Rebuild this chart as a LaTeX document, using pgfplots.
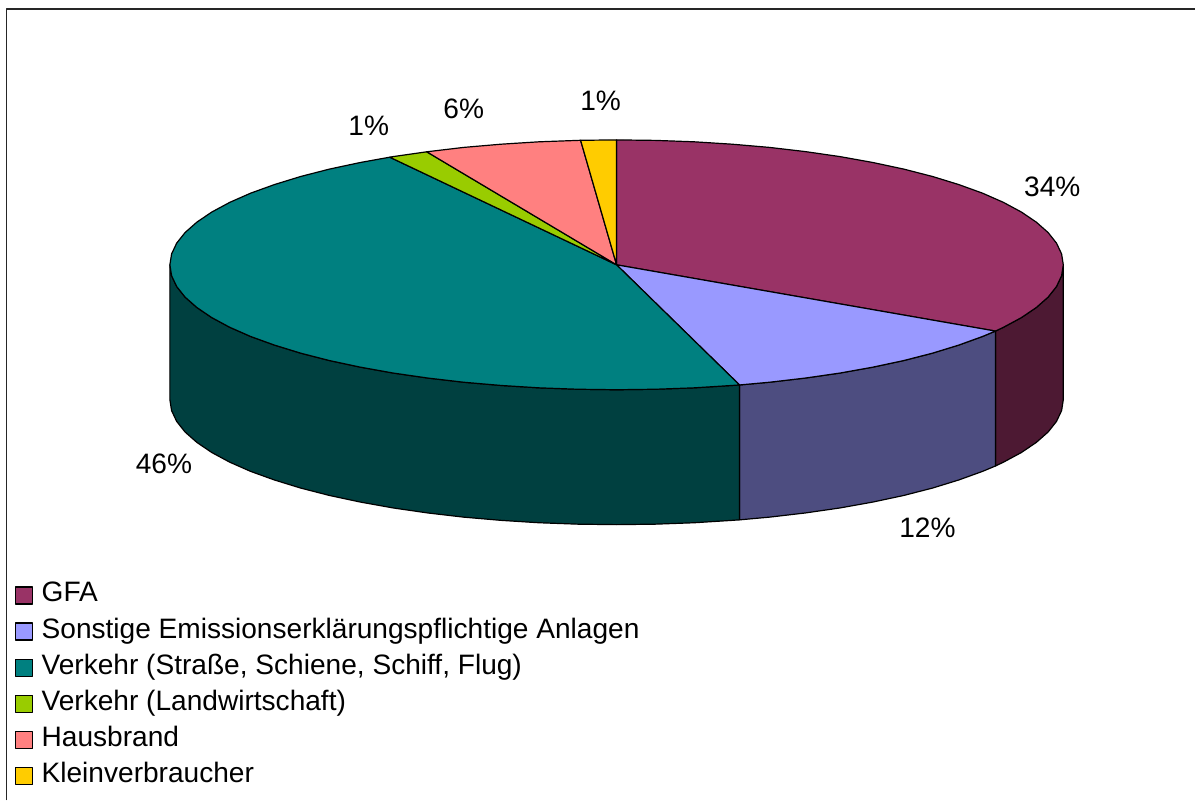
\documentclass[border=0pt]{standalone}
\usepackage{pgfplots}
\pgfplotsset{compat=1.18}
\usepackage{fontspec}
\setmainfont{Liberation Sans}
\definecolor{cGFA}{HTML}{993366}
\definecolor{cGFAs}{HTML}{4D1933}
\definecolor{cSon}{HTML}{9999FF}
\definecolor{cSons}{HTML}{4D4D80}
\definecolor{cVer}{HTML}{008080}
\definecolor{cVers}{HTML}{004040}
\definecolor{cLan}{HTML}{99CC00}
\definecolor{cHau}{HTML}{FF8080}
\definecolor{cKle}{HTML}{FFCC00}
\begin{document}
\begin{tikzpicture}
\begin{axis}[
  scale only axis, width=1196pt, height=801pt,
  xmin=0, xmax=1196, ymin=0, ymax=801, y dir=reverse,
  hide axis, clip=false,
  legend cell align=left,
  legend image code/.code={\draw[#1, line width=1.2pt] (0pt,-2pt) rectangle (17pt,15pt);},
  legend style={draw=none, fill=none, at={(axis cs:15,799)}, anchor=south west,
    inner sep=0pt, outer sep=0pt, row sep=0pt,
    nodes={inner sep=0pt, outer sep=0pt, text height=20.5pt, text depth=15.7pt, anchor=base west, font=\fontsize{28.1}{28.1}\selectfont},
    /tikz/every odd column/.append style={column sep=8.5pt}},
  every axis plot/.append style={line width=1.2pt, line join=round},
]
% page extent and frame
\addplot[draw=none, forget plot] coordinates {(0,0)(1196,801)};
\addplot[draw=black!85, line width=1.6pt, forget plot] coordinates {(6.5,801)(6.5,9)(1196,9)};
% sides
\addplot[draw=black, fill=cGFAs, forget plot] coordinates {
(1064,265)(1062.3,275.9)(1057.2,286.7)(1048.8,297.3)(1037,307.7)(1022.1,317.8)(1004.1,327.5)(996.1,331.3)
(996.1,466.3)(1004.1,462.5)(1022.1,452.8)(1037,442.7)(1048.8,432.3)(1057.2,421.7)(1062.3,410.9)(1064,400)(1064,265)};
\addplot[draw=black, fill=cSons, forget plot] coordinates {
(996.1,331.3)(983.2,336.7)(959.4,345.3)(933.1,353.4)(904.3,360.8)(873.4,367.4)(840.5,373.3)(805.9,378.3)(769.9,382.5)(740,385.2)
(740,520.2)(769.9,517.5)(805.9,513.3)(840.5,508.3)(873.4,502.4)(904.3,495.8)(933.1,488.4)(959.4,480.3)(983.2,471.7)(996.1,466.3)(996.1,331.3)};
\addplot[draw=black, fill=cVers, forget plot] coordinates {
(740,385.2)(732.7,385.7)(694.6,388.1)(656,389.5)(617,390)(578,389.5)(539.4,388.1)(501.3,385.7)(464.1,382.5)(428.1,378.3)(393.5,373.3)(360.6,367.4)(329.7,360.8)(300.9,353.4)(274.6,345.3)(250.8,336.7)(229.9,327.5)(211.9,317.8)(197,307.7)(185.2,297.3)(176.8,286.7)(171.7,275.9)(170,265)
(170,400)(171.7,410.9)(176.8,421.7)(185.2,432.3)(197,442.7)(211.9,452.8)(229.9,462.5)(250.8,471.7)(274.6,480.3)(300.9,488.4)(329.7,495.8)(360.6,502.4)(393.5,508.3)(428.1,513.3)(464.1,517.5)(501.3,520.7)(539.4,523.1)(578,524.5)(617,525)(656,524.5)(694.6,523.1)(732.7,520.7)(740,520.2)(740,385.2)};
% tops
\addplot[draw=black, fill=cGFA] coordinates {
(617,265)(617,140)(656,140.5)(694.6,141.9)(732.7,144.3)(769.9,147.5)(805.9,151.7)(840.5,156.7)(873.4,162.6)(904.3,169.2)(933.1,176.6)(959.4,184.7)(983.2,193.3)(1004.1,202.5)(1022.1,212.2)(1037,222.3)(1048.8,232.7)(1057.2,243.3)(1062.3,254.1)(1064,265)(1062.3,275.9)(1057.2,286.7)(1048.8,297.3)(1037,307.7)(1022.1,317.8)(1004.1,327.5)(996.1,331.3)(617,265)};
\addlegendentry{GFA}
\addplot[draw=black, fill=cSon] coordinates {
(617,265)(996.1,331.3)(983.2,336.7)(959.4,345.3)(933.1,353.4)(904.3,360.8)(873.4,367.4)(840.5,373.3)(805.9,378.3)(769.9,382.5)(740,385.2)(617,265)};
\addlegendentry{Sonstige Emissionserklärungspflichtige Anlagen}
\addplot[draw=black, fill=cVer] coordinates {
(617,265)(740,385.2)(732.7,385.7)(694.6,388.1)(656,389.5)(617,390)(578,389.5)(539.4,388.1)(501.3,385.7)(464.1,382.5)(428.1,378.3)(393.5,373.3)(360.6,367.4)(329.7,360.8)(300.9,353.4)(274.6,345.3)(250.8,336.7)(229.9,327.5)(211.9,317.8)(197,307.7)(185.2,297.3)(176.8,286.7)(171.7,275.9)(170,265)(171.7,254.1)(176.8,243.3)(185.2,232.7)(197,222.3)(211.9,212.2)(229.9,202.5)(250.8,193.3)(274.6,184.7)(300.9,176.6)(329.7,169.2)(360.6,162.6)(390,157.3)(617,265)};
\addlegendentry{Verkehr (Straße, Schiene, Schiff, Flug)}
\addplot[draw=black, fill=cLan] coordinates {
(617,265)(390,157.3)(393.5,156.7)(427,151.9)(617,265)};
\addlegendentry{Verkehr (Landwirtschaft)}
\addplot[draw=black, fill=cHau] coordinates {
(617,265)(427,151.9)(464.1,147.5)(501.3,144.3)(539.4,141.9)(581,140.4)(617,265)};
\addlegendentry{Hausbrand}
\addplot[draw=black, fill=cKle] coordinates {
(617,265)(581,140.4)(617,140)(617,265)};
\addlegendentry{Kleinverbraucher}
% percentages
\node[font=\fontsize{28.1}{28.1}\selectfont] at (axis cs:1053,187) {34\%};
\node[font=\fontsize{28.1}{28.1}\selectfont] at (axis cs:928,528) {12\%};
\node[font=\fontsize{28.1}{28.1}\selectfont] at (axis cs:164,464) {46\%};
\node[font=\fontsize{28.1}{28.1}\selectfont] at (axis cs:369,126) {1\%};
\node[font=\fontsize{28.1}{28.1}\selectfont] at (axis cs:464,109) {6\%};
\node[font=\fontsize{28.1}{28.1}\selectfont] at (axis cs:601,101) {1\%};
\end{axis}
\end{tikzpicture}
\end{document}
